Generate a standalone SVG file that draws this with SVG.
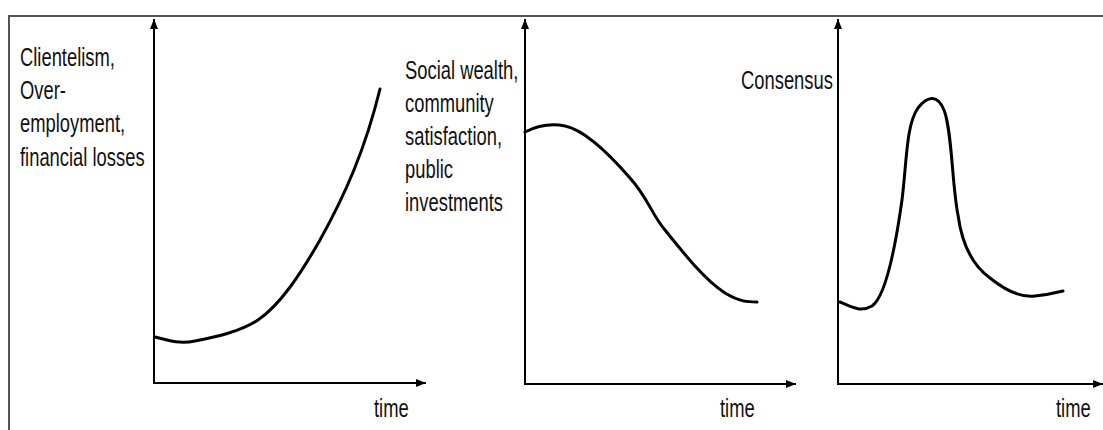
<svg xmlns="http://www.w3.org/2000/svg" width="1103" height="430" viewBox="0 0 1103 430">
<style>
.lbl{font-family:"Liberation Sans",Arial,sans-serif;font-size:26px;fill:#111}
.axis{stroke:#000;stroke-width:2;fill:none;marker-end:url(#ah)}
.curve{stroke:#000;stroke-width:3;fill:none;stroke-linecap:round;stroke-linejoin:round}
.frame{stroke:#555;stroke-width:2;fill:none}
</style>
<defs>
<marker id="ah" markerUnits="userSpaceOnUse" markerWidth="10" markerHeight="8" refX="10" refY="4" orient="auto">
<path d="M0,0 L10,4 L0,8 z" fill="#000"/>
</marker>
</defs>
<rect width="1103" height="430" fill="#fff"/>
<path class="frame" d="M1103,16 H9 V430"/>
<g id="connectors">
<path class="axis" d="M154,384 V19"/>
<path class="axis" d="M153,383 H426"/>
<path class="axis" d="M525,385 V19"/>
<path class="axis" d="M524,384 H796"/>
<path class="axis" d="M838,385 V19"/>
<path class="axis" d="M837,384 H1103"/>
</g>
<g id="chart1">
<path class="curve" d="M155,337 C170,341 180,344 195,341 C215,337 240,332 258,320 C280,305 300,275 320,240 C345,195 365,150 380,89"/>
<text class="lbl" transform="translate(20,66) scale(0.707,1)"><tspan x="0" y="0">Clientelism,</tspan><tspan x="0" y="33">Over-</tspan><tspan x="0" y="66">employment,</tspan><tspan x="0" y="100">financial losses</tspan></text>
<text class="lbl" transform="translate(374,417) scale(0.707,1)">time</text>
</g>
<g id="chart2">
<path class="curve" d="M525,132 C535,127 550,123 565,126 C585,130 610,155 630,178 C648,198 652,215 665,230 C685,255 705,280 725,293 C740,302 748,302 757,302"/>
<text class="lbl" transform="translate(405,79) scale(0.707,1)"><tspan x="0" y="0">Social wealth,</tspan><tspan x="0" y="33">community</tspan><tspan x="0" y="66">satisfaction,</tspan><tspan x="0" y="99">public</tspan><tspan x="0" y="132">investments</tspan></text>
<text class="lbl" transform="translate(720,417) scale(0.707,1)">time</text>
</g>
<g id="chart3">
<path class="curve" d="M840,302 C850,306 860,313 872,306 C885,297 895,250 902,200 C907,160 906,125 918,108 C928,95 938,95 944,110 C952,130 952,185 958,215 C962,245 972,265 990,278 C1005,290 1020,298 1035,296 C1045,295 1055,293 1063,291"/>
<text class="lbl" transform="translate(741,89) scale(0.707,1)">Consensus</text>
<text class="lbl" transform="translate(1056,417) scale(0.707,1)">time</text>
</g>
</svg>
